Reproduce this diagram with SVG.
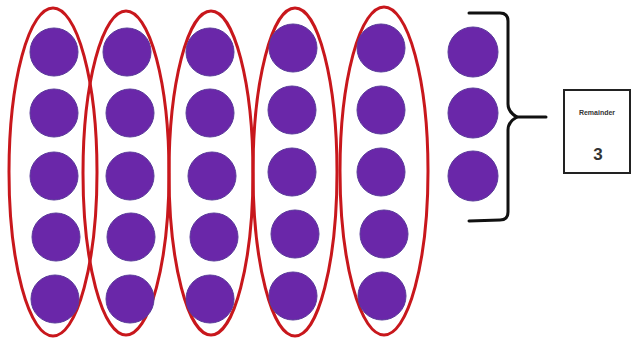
<svg xmlns="http://www.w3.org/2000/svg" width="631" height="341" viewBox="0 0 631 341">
<style>
.dot{fill:#6a27a9;stroke:#5a3a9a;stroke-width:1}
.grp{fill:none;stroke:#c8171c;stroke-width:3}
.br{fill:none;stroke:#111;stroke-width:3;stroke-linecap:round;stroke-linejoin:round}
.box{fill:#fff;stroke:#222;stroke-width:2}
.t{font-family:"Liberation Sans",Arial,sans-serif;fill:#333;text-anchor:middle}
</style>
<rect width="631" height="341" fill="#fff"/>
<g id="groups">
<ellipse class="grp" cx="53" cy="172" rx="44" ry="164"/>
<ellipse class="grp" cx="126" cy="173" rx="43" ry="162"/>
<ellipse class="grp" cx="211" cy="173" rx="42" ry="162"/>
<ellipse class="grp" cx="295" cy="172" rx="42" ry="164"/>
<ellipse class="grp" cx="384" cy="171" rx="44" ry="164"/>
</g>
<g id="col1">
<circle class="dot" cx="54" cy="52" r="24"/>
<circle class="dot" cx="54" cy="113" r="24"/>
<circle class="dot" cx="54" cy="176" r="24"/>
<circle class="dot" cx="56" cy="237" r="24"/>
<circle class="dot" cx="55" cy="299" r="24"/>
</g>
<g id="col2">
<circle class="dot" cx="127" cy="52" r="24"/>
<circle class="dot" cx="130" cy="113" r="24"/>
<circle class="dot" cx="130" cy="176" r="24"/>
<circle class="dot" cx="131" cy="237" r="24"/>
<circle class="dot" cx="130" cy="299" r="24"/>
</g>
<g id="col3">
<circle class="dot" cx="210" cy="52" r="24"/>
<circle class="dot" cx="210" cy="113" r="24"/>
<circle class="dot" cx="212" cy="176" r="24"/>
<circle class="dot" cx="214" cy="237" r="24"/>
<circle class="dot" cx="210" cy="299" r="24"/>
</g>
<g id="col4">
<circle class="dot" cx="293" cy="48" r="24"/>
<circle class="dot" cx="292" cy="110" r="24"/>
<circle class="dot" cx="292" cy="172" r="24"/>
<circle class="dot" cx="295" cy="234" r="24"/>
<circle class="dot" cx="293" cy="296" r="24"/>
</g>
<g id="col5">
<circle class="dot" cx="381" cy="48" r="24"/>
<circle class="dot" cx="381" cy="110" r="24"/>
<circle class="dot" cx="381" cy="172" r="24"/>
<circle class="dot" cx="384" cy="234" r="24"/>
<circle class="dot" cx="382" cy="296" r="24"/>
</g>
<g id="remainder-dots">
<circle class="dot" cx="473" cy="52" r="25"/>
<circle class="dot" cx="473" cy="113" r="25"/>
<circle class="dot" cx="473" cy="176" r="25"/>
</g>
<g id="connectors">
<path class="br" d="M469,13 L500,13 Q508,13 508,21 L508,104 Q508,112 517,117 Q508,122 508,130 L508,212 Q508,220 500,220 L469,221"/>
<path class="br" d="M517,117 L546,117"/>
</g>
<g id="remainder-box">
<rect class="box" x="564" y="90" width="66" height="83"/>
<text class="t" x="597" y="115" font-size="7" font-weight="bold">Remainder</text>
<text class="t" x="598" y="160" font-size="17" font-weight="bold">3</text>
</g>
</svg>
